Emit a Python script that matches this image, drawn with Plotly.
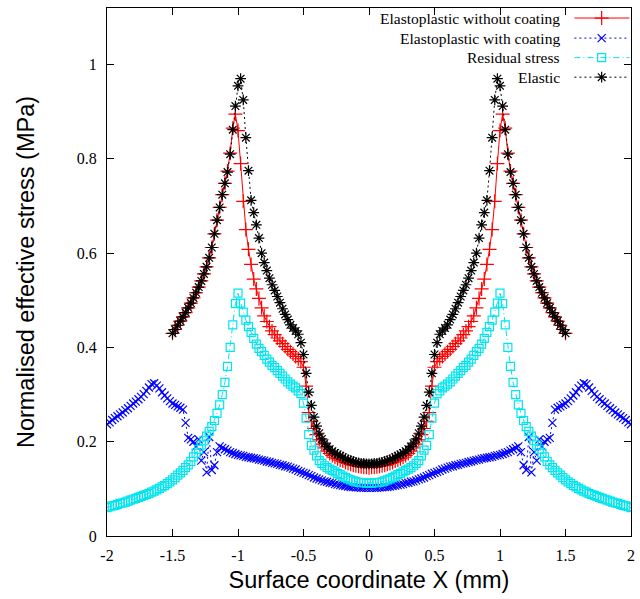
import numpy as np
import plotly.graph_objects as go

# Sampling step along the surface (mm); profiles are symmetric about X = 0,
# so only the half X >= 0 is listed and mirrored.
x_step = 0.02

series_names = [
    "Elastoplastic without coating",
    "Elastoplastic with coating",
    "Residual stress",
    "Elastic",
]

# Elastoplastic without coating, X = 0 .. 1.5
red_half = [
    0.145, 0.146, 0.146, 0.147, 0.148, 0.149, 0.150, 0.152, 0.154, 0.156,
    0.159, 0.161, 0.164, 0.167, 0.171, 0.175, 0.180, 0.187, 0.195, 0.204,
    0.215, 0.228, 0.243, 0.262, 0.318, 0.358,
    0.370, 0.376, 0.381, 0.386, 0.391, 0.396, 0.402, 0.408, 0.414, 0.420,
    0.427, 0.435, 0.444, 0.455, 0.467, 0.484, 0.504, 0.524, 0.545, 0.576,
    0.608, 0.650, 0.710, 0.790, 0.860,
    0.895, 0.865, 0.812, 0.774, 0.748, 0.724, 0.697, 0.670, 0.641, 0.612,
    0.590, 0.571, 0.556, 0.541, 0.528, 0.516, 0.505, 0.494, 0.484, 0.474,
    0.465, 0.456, 0.447, 0.438, 0.430,
]

# Elastoplastic with coating, X = 0 .. 2.0
blue_half = [
    0.102, 0.102, 0.102, 0.102, 0.103, 0.103, 0.104, 0.104, 0.105, 0.106,
    0.107, 0.108, 0.109, 0.110, 0.112, 0.113, 0.115, 0.116, 0.118, 0.120,
    0.122, 0.124, 0.127, 0.129, 0.132, 0.134, 0.136, 0.138, 0.141, 0.143,
    0.145, 0.147, 0.148, 0.150, 0.151, 0.153, 0.154, 0.155, 0.157, 0.158,
    0.160, 0.161, 0.162, 0.164, 0.165, 0.166, 0.167, 0.168, 0.170, 0.171,
    0.172,
    0.174, 0.176, 0.178, 0.181, 0.184, 0.187, 0.190, 0.178, 0.150, 0.140,
    0.210, 0.135, 0.178, 0.160, 0.205, 0.190, 0.200, 0.205, 0.208, 0.240,
    0.268, 0.272, 0.275, 0.278, 0.281, 0.286, 0.292, 0.298, 0.305, 0.313,
    0.319, 0.324, 0.322, 0.315, 0.308, 0.301, 0.295, 0.290, 0.285, 0.281,
    0.276, 0.271, 0.267, 0.262, 0.258, 0.254, 0.250, 0.246, 0.241, 0.237,
]

# Residual stress, X = 0 .. 2.0
cyan_half = [
    0.112, 0.112, 0.113, 0.113, 0.114, 0.115, 0.117, 0.119, 0.121, 0.124,
    0.127, 0.130, 0.133, 0.136, 0.139, 0.142, 0.145, 0.149, 0.154, 0.160,
    0.170, 0.182, 0.192, 0.215, 0.250, 0.282,
    0.302, 0.308, 0.314, 0.318, 0.322, 0.327, 0.333, 0.339, 0.345, 0.351,
    0.357, 0.362, 0.369, 0.375, 0.383, 0.391, 0.398, 0.407, 0.419, 0.432,
    0.444, 0.458, 0.475, 0.494, 0.515,
    0.493, 0.448, 0.400, 0.360, 0.326, 0.300, 0.278, 0.260, 0.245, 0.232,
    0.222, 0.212, 0.202, 0.193, 0.184, 0.176, 0.168, 0.158, 0.151, 0.145,
    0.139, 0.134, 0.129, 0.124, 0.119, 0.115, 0.111, 0.107, 0.104, 0.101,
    0.098, 0.095, 0.093, 0.090, 0.088, 0.086, 0.084, 0.082, 0.080, 0.078,
    0.076, 0.074, 0.072, 0.070, 0.069, 0.067, 0.065, 0.064, 0.062, 0.060,
]

# Elastic, X = 0 .. 1.5
black_half = [
    0.153, 0.153, 0.154, 0.154, 0.155, 0.156, 0.158, 0.160, 0.162, 0.164,
    0.167, 0.170, 0.173, 0.176, 0.180, 0.184, 0.190, 0.197, 0.206, 0.218,
    0.233, 0.252, 0.277, 0.305, 0.345, 0.385,
    0.410, 0.428, 0.435, 0.441, 0.448, 0.459, 0.470, 0.482, 0.495, 0.508,
    0.521, 0.533, 0.547, 0.563, 0.580, 0.600, 0.632, 0.660, 0.686, 0.712,
    0.775, 0.845, 0.925, 0.970, 0.955,
    0.912, 0.862, 0.810, 0.772, 0.748, 0.724, 0.697, 0.670, 0.641, 0.612,
    0.590, 0.571, 0.556, 0.541, 0.528, 0.516, 0.505, 0.494, 0.484, 0.474,
    0.465, 0.456, 0.447, 0.438, 0.430,
]

x_ticks = [-2, -1.5, -1, -0.5, 0, 0.5, 1, 1.5, 2]
x_tick_text = ["-2", "-1.5", "-1", "-0.5", "0", "0.5", "1", "1.5", "2"]
y_ticks = [0, 0.2, 0.4, 0.6, 0.8, 1]
y_tick_text = ["0", "0.2", "0.4", "0.6", "0.8", "1"]


def full_profile(half):
    """Mirror a half profile (X >= 0) onto the whole surface."""
    half = np.asarray(half, dtype=float)
    n = len(half)
    xs = np.round(np.arange(n) * x_step, 4)
    x_full = np.concatenate([-xs[:0:-1], xs])
    y_full = np.concatenate([half[:0:-1], half])
    return x_full, y_full


styles = [
    dict(color="#ff0000", dash="solid", symbol="cross-thin-open", size=10),
    dict(color="#0000ff", dash="2px,3px", symbol="x-thin-open", size=8),
    dict(color="#00e5ee", dash="6px,3px,1px,3px", symbol="square-open", size=8),
    dict(color="#000000", dash="2px,3px", symbol="asterisk-open", size=9),
]

fig = go.Figure()

for name, half, st in zip(series_names, [red_half, blue_half, cyan_half, black_half], styles):
    xf, yf = full_profile(half)
    fig.add_trace(go.Scatter(
        x=xf, y=yf, mode="lines+markers", name=name, showlegend=False,
        line=dict(color=st["color"], width=1, dash=st["dash"]),
        marker=dict(symbol=st["symbol"], size=st["size"],
                    line=dict(color=st["color"], width=1.2), color=st["color"]),
    ))

# Key in the upper-right corner: label on the left, sample on the right
key_rows = [0.981, 0.943, 0.906, 0.869]
key_x0, key_x1, key_xm, key_text_x = 0.892, 0.997, 0.944, 0.869
for name, st, ky in zip(series_names, styles, key_rows):
    fig.add_trace(go.Scatter(
        x=[key_x0, key_x1], y=[ky, ky], mode="lines", xaxis="x2", yaxis="y2",
        showlegend=False, hoverinfo="skip",
        line=dict(color=st["color"], width=1, dash=st["dash"]),
    ))
    fig.add_trace(go.Scatter(
        x=[key_xm], y=[ky], mode="markers", xaxis="x2", yaxis="y2",
        showlegend=False, hoverinfo="skip",
        marker=dict(symbol=st["symbol"], size=st["size"],
                    line=dict(color=st["color"], width=1.2), color=st["color"]),
    ))
    fig.add_annotation(
        x=key_text_x, y=ky, xref="paper", yref="paper", text=name,
        showarrow=False, xanchor="right", yanchor="middle",
        font=dict(family="Liberation Serif", size=15.5, color="#000000"),
    )

axis_common = dict(
    showgrid=False, zeroline=False, showline=True, linecolor="#000000",
    linewidth=1, mirror="ticks", ticks="inside", ticklen=7, tickcolor="#000000",
    tickfont=dict(family="Liberation Serif", size=16, color="#000000"),
)

fig.update_layout(
    width=640, height=599,
    margin=dict(l=107, r=5, t=8, b=63),
    paper_bgcolor="#ffffff", plot_bgcolor="#ffffff",
    showlegend=False,
    xaxis=dict(
        range=[-2, 2], tickvals=x_ticks, ticktext=x_tick_text,
        ticklabelstandoff=5,
        title=dict(text="Surface coordinate X (mm)", standoff=8,
                   font=dict(family="Liberation Sans", size=23.5, color="#000000")),
        **axis_common,
    ),
    yaxis=dict(
        range=[0, 1.12], tickvals=y_ticks, ticktext=y_tick_text,
        ticklabelstandoff=6,
        title=dict(text="Normalised effective stress (MPa)", standoff=35,
                   font=dict(family="Liberation Sans", size=23.5, color="#000000")),
        **axis_common,
    ),
    xaxis2=dict(overlaying="x", range=[0, 1], visible=False),
    yaxis2=dict(overlaying="y", range=[0, 1], visible=False),
)

fig.write_html("out.html")
